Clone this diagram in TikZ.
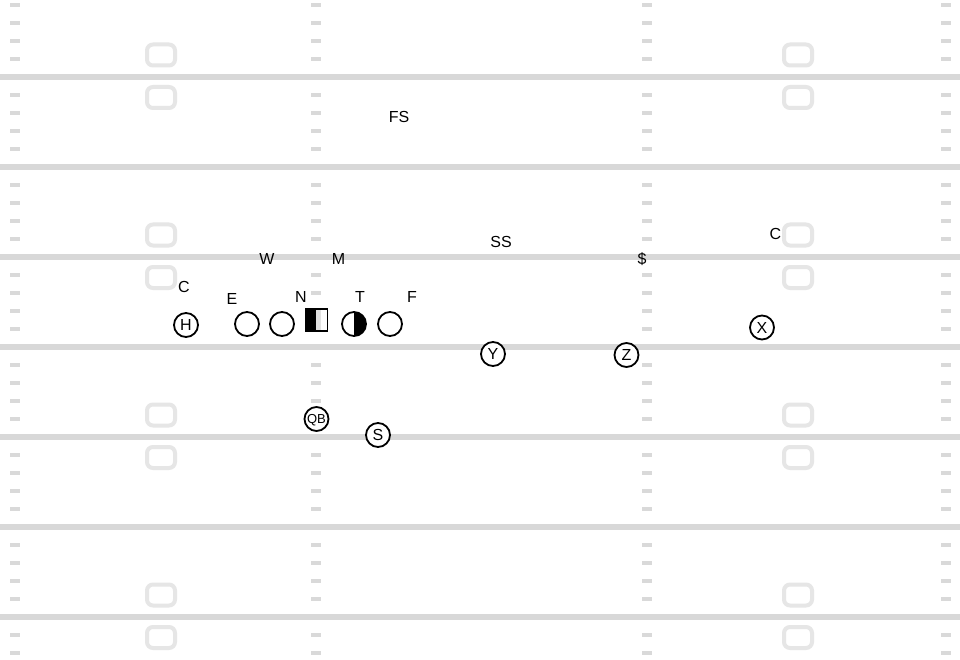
\documentclass[tikz,border=0pt]{standalone}
\usepackage{fontspec}
\setmainfont{Liberation Sans}
\definecolor{linegray}{HTML}{D8D8D8}
\definecolor{hashgray}{HTML}{D9D9D9}
\definecolor{numgray}{HTML}{E6E6E6}
\definecolor{stripgray}{HTML}{E2E2E2}
\begin{document}
\begin{tikzpicture}[x=1pt,y=-1pt,
  yardline/.style={fill=linegray},
  hashmark/.style={fill=hashgray},
  numbox/.style={draw=numgray, line width=4pt, rounded corners=6pt},
  lab/.style={inner sep=0pt, font=\fontsize{16}{16}\selectfont, text height=11.5pt, text depth=0pt},
  player/.style={circle, draw=black, line width=1.8pt, minimum size=24pt, inner sep=0pt, fill=white,
    font=\fontsize{16}{16}\selectfont, text height=11.5pt, text depth=0pt},
  qbplayer/.style={player, font=\fontsize{13}{13}\selectfont, text height=9.3pt},
  lineman/.style={circle, draw=black, line width=1.8pt, minimum size=24pt, inner sep=0pt, fill=white},
  halfman/.style={lineman, path picture={\fill[black] (path picture bounding box.south) rectangle (path picture bounding box.north east);}},
  centerman/.style={rectangle, draw=black, line width=1.8pt, minimum size=22pt, inner sep=0pt, fill=white,
    path picture={\fill[black] (path picture bounding box.south west) rectangle ([xshift=-1pt]path picture bounding box.north);
      \fill[stripgray] ([xshift=-1pt]path picture bounding box.south) rectangle ([xshift=4pt]path picture bounding box.north);}}
]
\useasboundingbox (0,0) rectangle (960,660);
\fill[white] (0,0) rectangle (960,660);
% yard lines
\foreach \k in {0,...,6} {
  \fill[yardline] (0,{77+90*\k-3}) rectangle (960,{77+90*\k+3});
}
% hash marks
\foreach \j in {-4,...,32} {
  \pgfmathtruncatemacro\m{mod(\j+20,5)}
  \ifnum\m=0\relax\else
    \foreach \hx in {10,311,642,941} {
      \fill[hashmark] (\hx,{77+18*\j-2}) rectangle ({\hx+10},{77+18*\j+2});
    }
  \fi
}
% yard numbers
\foreach \k in {0,2,4,6} {
  \foreach \bx in {161,798} {
    \draw[numbox] ({\bx-14},{77+90*\k-22-10.5}) rectangle ({\bx+14},{77+90*\k-22+10.5});
    \draw[numbox] ({\bx-14},{77+90*\k+20.5-10.5}) rectangle ({\bx+14},{77+90*\k+20.5+10.5});
  }
}
% offense
\node[player] (H) at (186,325) {H};
\node[lineman] (LT) at (247,324) {};
\node[lineman] (LG) at (282,324) {};
\node[centerman] (Cn) at (316.5,320) {};
\node[halfman] (RG) at (354,324) {};
\node[lineman] (RT) at (390,324) {};
\node[player] (Y) at (493,354) {Y};
\node[player] (Z) at (626.5,355) {Z};
\node[player] (X) at (762,327.5) {X};
\node[qbplayer] (QB) at (316.5,419) {QB};
\node[player] (S) at (378,435) {S};
% defense
\node[lab] (CL) at (184,287) {C};
\node[lab] (E) at (232,299) {E};
\node[lab] (N) at (301,297) {N};
\node[lab] (T) at (360,297) {T};
\node[lab] (F) at (412,297) {F};
\node[lab] (W) at (267,259) {W};
\node[lab] (M) at (338.5,259) {M};
\node[lab] (FS) at (399,116.5) {FS};
\node[lab] (SS) at (501,241.5) {SS};
\node[lab] (Dollar) at (642,259) {\$};
\node[lab] (CR) at (775.5,233.5) {C};
\end{tikzpicture}
\end{document}
